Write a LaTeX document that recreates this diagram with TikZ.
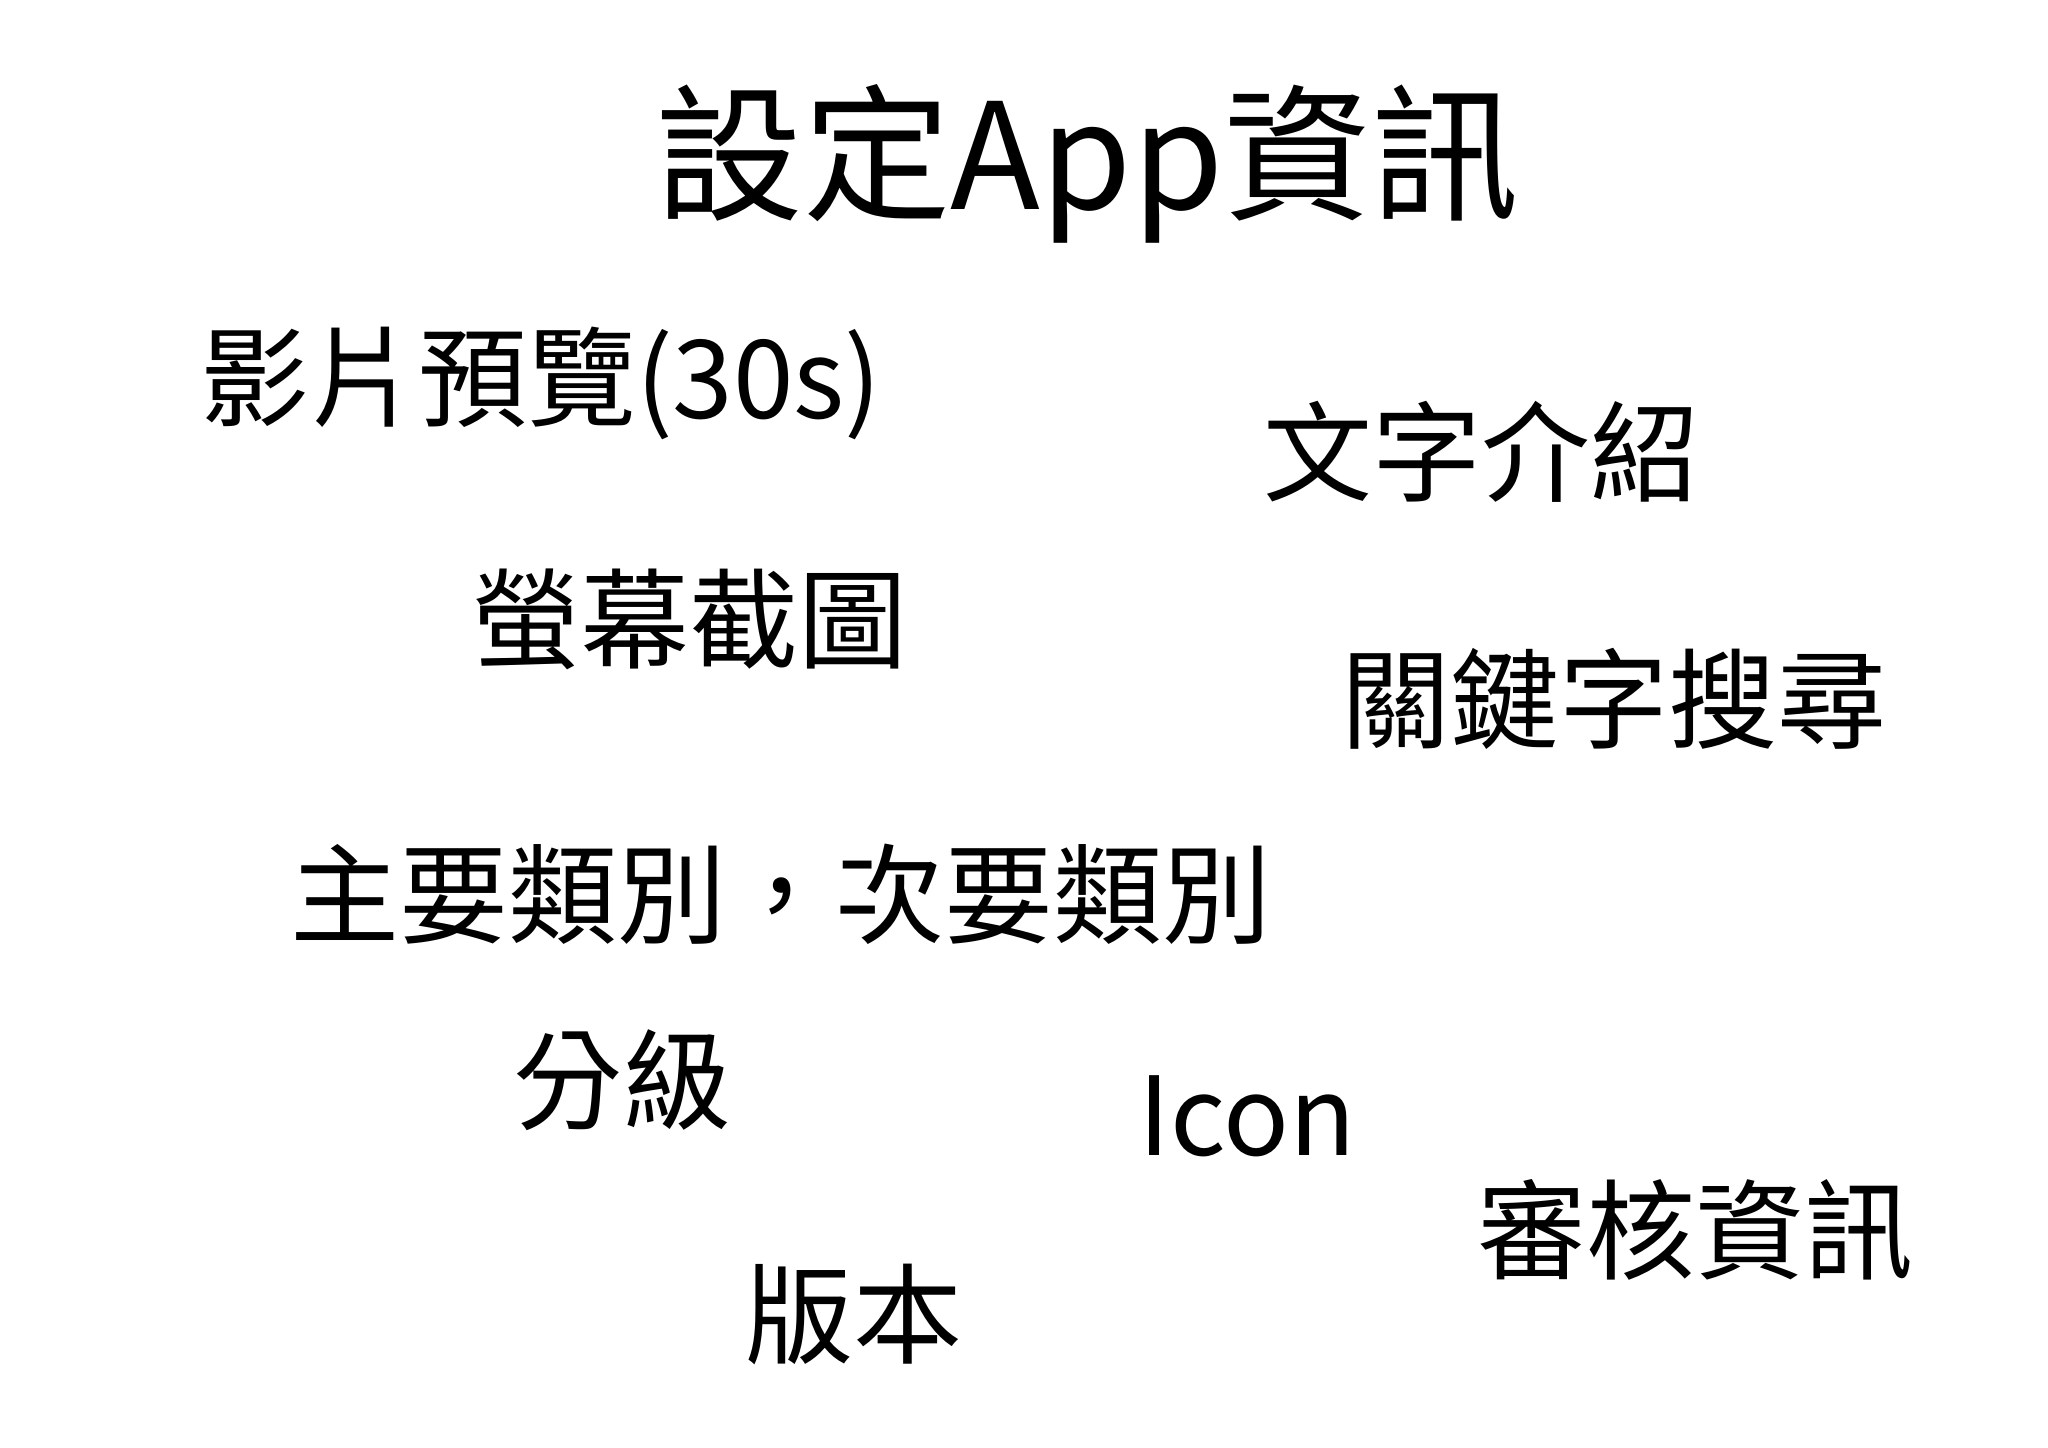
\documentclass[tikz,border=0pt]{standalone}
\usepackage{fontspec}
\setmainfont{Noto Sans CJK TC}
\begin{document}
\begin{tikzpicture}[x=1.313cm,y=-1.313cm,
  lbl/.style={inner sep=0pt,font=\fontsize{31}{36}\selectfont},
  ttl/.style={inner sep=0pt,font=\fontsize{42}{48}\selectfont}]
\useasboundingbox (0,0) rectangle (15.598,11.021);
\node[ttl] (t) at (8.28,1.25) {設定App資訊};
\node[lbl] (a) at (4.12,2.92) {影片預覽(30s)};
\node[lbl] (b) at (11.28,3.44) {文字介紹};
\node[lbl] (c) at (5.25,4.72) {螢幕截圖};
\node[lbl] (d) at (12.29,5.32) {關鍵字搜尋};
\node[lbl] (e) at (5.95,6.81) {主要類別，次要類別};
\node[lbl] (f) at (4.74,8.23) {分級};
\node[lbl] (g) at (9.50,8.50) {Icon};
\node[lbl] (h) at (12.91,9.37) {審核資訊};
\node[lbl] (i) at (6.50,10.01) {版本};
\end{tikzpicture}
\end{document}
